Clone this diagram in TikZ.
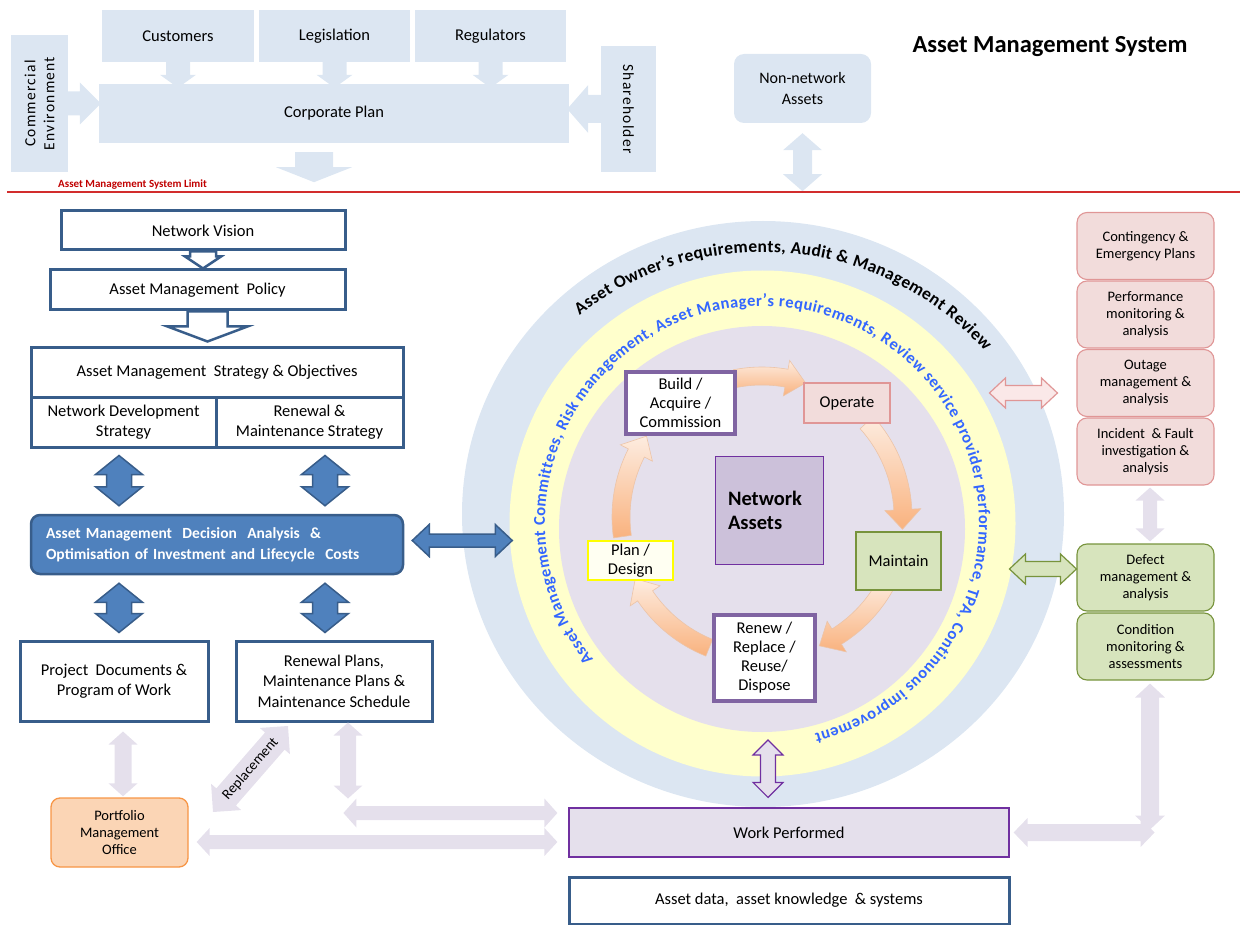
\documentclass[tikz,border=0pt]{standalone}
\usepackage{fontspec}
\setmainfont{Carlito}
\usetikzlibrary{calc,decorations.text}

\definecolor{tb}{RGB}{220,230,242}
\definecolor{ringy}{RGB}{255,255,204}
\definecolor{lav}{RGB}{229,224,236}
\definecolor{db}{RGB}{56,93,138}
\definecolor{mb}{RGB}{79,129,189}
\definecolor{napurple}{RGB}{204,193,218}
\definecolor{pur}{RGB}{112,48,160}
\definecolor{vio}{RGB}{128,100,162}
\definecolor{pinkf}{RGB}{242,220,219}
\definecolor{pinkd}{RGB}{224,150,150}
\definecolor{pinkl}{RGB}{250,232,232}
\definecolor{grnf}{RGB}{215,228,189}
\definecolor{grnd}{RGB}{119,147,60}
\definecolor{pmof}{RGB}{251,213,181}
\definecolor{pmod}{RGB}{247,150,70}
\definecolor{ringtxt}{RGB}{51,102,255}
\definecolor{limitred}{RGB}{192,0,0}
\definecolor{redline}{RGB}{210,45,45}
\definecolor{pch1}{RGB}{253,236,224}
\definecolor{pch2}{RGB}{249,178,126}
\definecolor{pchd}{RGB}{236,196,168}
\definecolor{ylw}{RGB}{255,255,0}
\definecolor{plnf}{RGB}{255,255,242}

\newcommand{\fsz}[2]{\fontsize{#1}{#2}\selectfont}

% double block arrow: style, end A, end B, shaft half width, head half width, head length
\newcommand{\dblarrow}[6]{%
  \path[#1] (#2) -- ($(#2)!#6!(#3)!#5!90:(#3)$) -- ($(#2)!#6!(#3)!#4!90:(#3)$)
    -- ($(#3)!#6!(#2)!#4!-90:(#2)$) -- ($(#3)!#6!(#2)!#5!-90:(#2)$) -- (#3)
    -- ($(#3)!#6!(#2)!#5!90:(#2)$) -- ($(#3)!#6!(#2)!#4!90:(#2)$)
    -- ($(#2)!#6!(#3)!#4!-90:(#3)$) -- ($(#2)!#6!(#3)!#5!-90:(#3)$) -- cycle;}

% single block arrow: style, tail, tip, shaft half width, head half width, head length
\newcommand{\sglarrow}[6]{%
  \path[#1] ($(#2)!#4!90:(#3)$) -- ($(#3)!#6!(#2)!#4!-90:(#2)$) -- ($(#3)!#6!(#2)!#5!-90:(#2)$)
    -- (#3) -- ($(#3)!#6!(#2)!#5!90:(#2)$) -- ($(#3)!#6!(#2)!#4!90:(#2)$)
    -- ($(#2)!#4!-90:(#3)$) -- cycle;}

% curved arrow of the life cycle: style, start angle, head base angle, tip angle
\newcommand{\cycarrow}[4]{%
  \path[#1] ([shift={(#2:150)}]C) arc[start angle=#2, end angle=#3, radius=150]
    -- ([shift={(#3:159)}]C) -- ([shift={(#4:141)}]C) -- ([shift={(#3:123)}]C)
    -- ([shift={(#3:132)}]C) arc[start angle=#3, end angle=#2, radius=132] -- cycle;}

\pgfdeclarelayer{back}
\pgfdeclarelayer{mid}
\pgfsetlayers{back,mid,main}

\begin{document}
\begin{tikzpicture}[x=1pt,y=-1pt,
  topbox/.style={fill=tb, inner sep=0, align=center, font=\fsz{16.5}{19}},
  wbox/.style={draw=db, line width=3, fill=white, inner sep=0, align=center, font=\fsz{16.5}{20.5}},
  redbox/.style={rounded corners=10, fill=pinkf, draw=pinkd, line width=1.1, minimum width=137, minimum height=67, inner sep=0, align=center, font=\fsz{14.5}{17}},
  grnbox/.style={redbox, fill=grnf, draw=grnd},
  cycwhite/.style={draw=vio, line width=3.5, fill=white, inner sep=0, align=center, font=\fsz{16.5}{19}},
  cycflat/.style={line width=1.2, inner sep=0, align=center, font=\fsz{16.5}{19}},
  toparrow/.style={fill=tb},
  hollowblue/.style={fill=white, draw=db, line width=2.5},
  bluedbl/.style={fill=mb, draw=db, line width=1.5},
  lavarrow/.style={fill=lav},
  cyc/.style={shade, top color=pch1, bottom color=pch2, draw=pchd, line width=0.6}]
\useasboundingbox (0,0) rectangle (1240,925);

% ---------- rings around the life cycle ----------
\coordinate (C) at (762,517);
\coordinate (O1) at (763,550);
\coordinate (O2) at (762,523);
\begin{pgfonlayer}{back}
  \fill[tb] (763,514) ellipse[x radius=301, y radius=293];
  \fill[ringy] (762.5,523.5) circle[radius=253];
  \fill[lav] (762,529) circle[radius=203];
  \path[decorate, decoration={text along path, text align={fit to path}, text color=black,
      text={|\bfseries\fsz{17.5}{17.5}|Asset Owner's requirements, Audit {\&} Management Review}}]
    ([shift={(-128:298)}]O1) arc[start angle=-128, end angle=-42, radius=298];
  \path[decorate, decoration={text along path, text align={fit to path}, text color=ringtxt,
      text={|\bfseries\fsz{16.5}{16.5}|Asset Management Committees, Risk management, Asset Manager's requirements, Review service provider performance, TPA, Continuous improvement}}]
    ([shift={(141:217)}]O2) arc[start angle=141, end angle=436, radius=217];
\end{pgfonlayer}

% ---------- life cycle arrows ----------
\begin{pgfonlayer}{mid}
  \cycarrow{cyc}{-101}{-80}{-72}
  \cycarrow{cyc}{-42}{-3}{5}
  \cycarrow{cyc}{28}{58}{66}
  \cycarrow{cyc}{112}{146}{154}
  \cycarrow{cyc}{172}{207}{215}
\end{pgfonlayer}

% ---------- corporate context ----------
\node[topbox, rotate=90, minimum width=137, minimum height=57, font=\fsz{15.5}{19}\addfontfeatures{LetterSpace=8}] (ce) at (39.5,103.5) {Commercial\\Environment};
\node[topbox, minimum width=152, minimum height=52] (cust) at (178,36) {Customers};
\node[topbox, minimum width=151, minimum height=52] (legis) at (334.5,36) {Legislation};
\node[topbox, minimum width=151, minimum height=52] (regul) at (490.5,36) {Regulators};
\node[topbox, rotate=-90, minimum width=126, minimum height=55, font=\fsz{15.5}{19}\addfontfeatures{LetterSpace=8}] (sh) at (628.5,109) {Shareholder};
\node[topbox, minimum width=470, minimum height=59] (corp) at (334,113.5) {Corporate Plan};
\node[topbox, rounded corners=10, minimum width=137, minimum height=69, font=\fsz{16}{21}] (nn) at (802.5,88.5) {Non-network\\Assets};
\node[font=\bfseries\fsz{24.5}{28}] (title) at (1050,47) {Asset Management System};

\coordinate (custtip) at ($(cust.south |- corp.north)+(0,4)$);
\coordinate (legistip) at ($(legis.south |- corp.north)+(0,4)$);
\coordinate (regultip) at ($(regul.south |- corp.north)+(0,4)$);
\coordinate (cetip) at ($(ce.south -| corp.west)+(2,0)$);
\coordinate (shtip) at ($(sh.south -| corp.east)+(-2,0)$);
\coordinate (cpd1) at ($(corp.south)+(-20,9)$);
\coordinate (cpd2) at ($(corp.south)+(-20,39)$);
\coordinate (nna1) at ($(nn.south)+(0,10)$);
\coordinate (nna2) at ($(nn.south)+(0,68)$);
\sglarrow{toparrow}{cust.south}{custtip}{12pt}{18pt}{13pt}
\sglarrow{toparrow}{legis.south}{legistip}{12pt}{18pt}{13pt}
\sglarrow{toparrow}{regul.south}{regultip}{12pt}{18pt}{13pt}
\sglarrow{toparrow}{ce.south}{cetip}{12pt}{21pt}{21pt}
\sglarrow{toparrow}{sh.south}{shtip}{14pt}{24pt}{21pt}
\sglarrow{toparrow}{cpd1}{cpd2}{19pt}{38pt}{15pt}
\dblarrow{toparrow}{nna1}{nna2}{9.5pt}{19.5pt}{17pt}

% system limit
\coordinate (rl1) at (7,192);
\coordinate (rl2) at (1240,192);
\draw[redline, line width=1.6] (rl1) -- (rl2);
\node[anchor=base west, inner sep=0, font=\bfseries\fsz{11}{13}, text=limitred] (limit) at (58,188) {Asset Management System Limit};

% ---------- strategy column ----------
\node[wbox, minimum width=284, minimum height=39] (nv) at (203,230.5) {Network Vision};
\node[wbox, minimum width=295, minimum height=40] (pol) at (197.5,290) {Asset Management\ \ Policy};
\node[wbox, minimum width=372, minimum height=49] (strat) at (217,372.5) {Asset Management\ \ Strategy\ \&\ Objectives};
\node[wbox, minimum width=185, minimum height=50] (nds) at (123.5,422) {Network Development\\Strategy};
\node[wbox, minimum width=187, minimum height=50] (rms) at (309.5,422) {Renewal \&\\Maintenance Strategy};
\node[rounded corners=9, fill=mb, draw=db, line width=2.5, minimum width=372, minimum height=59, text width=342, align=left, text=white, font=\bfseries\fsz{15.5}{21}, inner sep=0] (dec) at (217,544.5) {Asset Management\ \ Decision\ \ Analysis\ \ \&\\Optimisation\ of\ Investment and\ Lifecycle\ \ Costs};
\node[wbox, minimum width=188, minimum height=80] (pd) at (114,681) {Project\ \ Documents \&\\Program of Work};
\node[wbox, minimum width=196, minimum height=80] (rp) at (334,681) {Renewal Plans,\\Maintenance Plans \&\\Maintenance Schedule};
\node[rounded corners=9, fill=pmof, draw=pmod, line width=1.3, minimum width=137, minimum height=69, inner sep=0, align=center, font=\fsz{14.5}{17}] (pmo) at (119.5,832.5) {Portfolio\\Management\\Office};

\coordinate (pa1) at ($(pol.south)+(10,0)$);
\coordinate (pa2) at ($(pol.south)+(10,30)$);
\sglarrow{hollowblue}{nv.south}{nv.south |- pol.north}{13pt}{18pt}{12pt}
\sglarrow{hollowblue}{pa1}{pa2}{20pt}{40pt}{15pt}

\coordinate (dna1) at ($(nds.south)+(-4.5,7)$);
\coordinate (dna2) at ($(dec.north -| dna1)+(0,-8)$);
\coordinate (rma1) at ($(rms.south)+(15.5,7)$);
\coordinate (rma2) at ($(dec.north -| rma1)+(0,-8)$);
\coordinate (dnb1) at ($(dec.south -| dna1)+(0,8)$);
\coordinate (dnb2) at ($(pd.north -| dna1)+(0,-7)$);
\coordinate (rmb1) at ($(dec.south -| rma1)+(0,8)$);
\coordinate (rmb2) at ($(rp.north -| rma1)+(0,-7)$);
\dblarrow{bluedbl}{dna1}{dna2}{12.5pt}{23.5pt}{19pt}
\dblarrow{bluedbl}{rma1}{rma2}{12.5pt}{23.5pt}{19pt}
\dblarrow{bluedbl}{dnb1}{dnb2}{12.5pt}{23.5pt}{19pt}
\dblarrow{bluedbl}{rmb1}{rmb2}{12.5pt}{23.5pt}{19pt}

\coordinate (dca1) at ($(dec.east)+(8,-4)$);
\coordinate (dca2) at ($(dec.east)+(108,-4)$);
\dblarrow{bluedbl}{dca1}{dca2}{6.5pt}{16pt}{17pt}

% ---------- life cycle ----------
\node[cycwhite, minimum width=109, minimum height=62] (bld) at (680.5,403) {Build /\\Acquire /\\Commission};
\node[cycflat, fill=pinkf, draw=pinkd, minimum width=86, minimum height=40] (opr) at (847,403) {Operate};
\node[cycflat, fill=grnf, draw=grnd, minimum width=85, minimum height=58] (mnt) at (898.5,561) {Maintain};
\node[cycwhite, minimum width=101, minimum height=86] (rnw) at (764.5,658) {Renew /\\Replace /\\Reuse/\\Dispose};
\node[cycflat, fill=plnf, draw=ylw, line width=1.6, minimum width=85, minimum height=39] (pln) at (630.5,560.5) {Plan /\\Design};
\node[draw=pur, fill=napurple, line width=1, minimum width=108, minimum height=108, text width=82, align=left, font=\bfseries\fsz{20.5}{24}, inner sep=0] (na) at (769,510) {Network\\Assets};

\node[fill=lav, draw=pur, line width=1.2, minimum width=440, minimum height=49, inner sep=0, font=\fsz{16.5}{19}] (wp) at (789,832.5) {Work Performed};
\node[wbox, minimum width=440, minimum height=47] (ad) at (789,900.5) {Asset data,\ \ asset knowledge\ \ \& systems};

\coordinate (wpa1) at (768,740);
\coordinate (wpa2) at ($(wp.north -| wpa1)+(0,-10)$);
\dblarrow{fill=lav, draw=pur, line width=1.2}{wpa1}{wpa2}{7.5pt}{15pt}{15pt}

% ---------- monitoring column ----------
\node[redbox] (cep) at (1145.5,246) {Contingency \&\\Emergency Plans};
\node[redbox] (pma) at (1145.5,314.5) {Performance\\monitoring \&\\analysis};
\node[redbox] (oma) at (1145.5,383) {Outage\\management \&\\analysis};
\node[redbox] (ifa) at (1145.5,451.5) {Incident\ \ \& Fault\\investigation \&\\analysis};
\node[grnbox] (dma) at (1145.5,577.5) {Defect\\management \&\\analysis};
\node[grnbox] (cma) at (1145.5,646.5) {Condition\\monitoring \&\\assessments};

\coordinate (pka2) at ($(oma.west)+(-19,10)$);
\coordinate (pka1) at ($(pka2)+(-68,0)$);
\dblarrow{fill=pinkl, draw=pinkd, line width=1.2}{pka1}{pka2}{7.5pt}{15pt}{16pt}
\coordinate (gra2) at ($(dma.west)+(0,-8.5)$);
\coordinate (gra1) at ($(gra2)+(-67,0)$);
\dblarrow{fill=grnf, draw=grnd, line width=1.2}{gra1}{gra2}{7.5pt}{15pt}{16pt}
\coordinate (ida1) at ($(ifa.south)+(4.5,2)$);
\coordinate (ida2) at ($(dma.north)+(4.5,-2)$);
\dblarrow{lavarrow}{ida1}{ida2}{7pt}{14.5pt}{13pt}
\coordinate (cva1) at ($(cma.south)+(4.5,3)$);
\coordinate (cva2) at ($(cva1)+(0,146)$);
\dblarrow{lavarrow}{cva1}{cva2}{9pt}{15pt}{14pt}
\coordinate (cha1) at ($(wp.east)+(4,0)$);
\coordinate (cha2) at ($(cha1)+(141,0)$);
\dblarrow{lavarrow}{cha1}{cha2}{8.5pt}{14.5pt}{14pt}

% ---------- plans to work ----------
\coordinate (pda1) at ($(pd.south)+(9,9)$);
\coordinate (pda2) at ($(pda1 |- pmo.north)+(0,-1)$);
\dblarrow{lavarrow}{pda1}{pda2}{8.5pt}{14.5pt}{13pt}
\coordinate (rpa1) at ($(rp.south)+(14,0)$);
\coordinate (rpa2) at ($(rpa1)+(0,76)$);
\dblarrow{lavarrow}{rpa1}{rpa2}{8pt}{14.5pt}{13pt}
\coordinate (ha2) at ($(wp.west)+(-11,-19.5)$);
\coordinate (ha1) at ($(ha2)+(-214,0)$);
\dblarrow{lavarrow}{ha1}{ha2}{7pt}{14.5pt}{13pt}
\coordinate (hb1) at ($(pmo.east)+(8,9.5)$);
\coordinate (hb2) at (hb1 -| ha2);
\dblarrow{lavarrow}{hb1}{hb2}{7pt}{14pt}{13pt}
\coordinate (rep1) at (213,812);
\coordinate (rep2) at (288,726);
\dblarrow{lavarrow}{rep1}{rep2}{13pt}{20pt}{20pt}
\node[rotate=49, inner sep=0, font=\fsz{14.5}{15}] (reptxt) at ($(rep1)!0.5!(rep2)$) {Replacement};

\end{tikzpicture}
\end{document}
